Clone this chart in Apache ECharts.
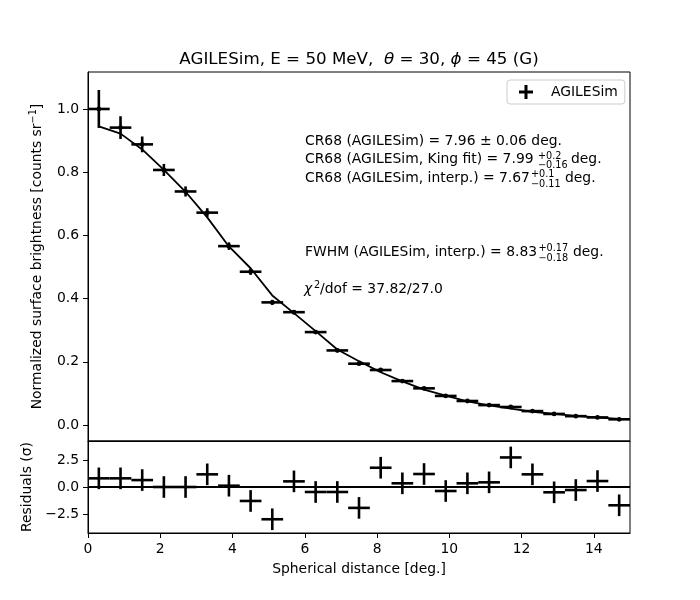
<!DOCTYPE html>
<html>
<head>
<meta charset="utf-8">
<script src="https://cdn.jsdelivr.net/npm/echarts@6/dist/echarts.min.js"></script>
<style>html,body{margin:0;padding:0;background:#fff}#c{width:700px;height:600px}</style>
</head>
<body>
<div id="c"></div>
<script>
// ---- data ----
const xCenters = [0.3,0.9,1.5,2.1,2.7,3.3,3.9,4.5,5.1,5.7,6.3,6.9,7.5,8.1,8.7,9.3,9.9,10.5,11.1,11.7,12.3,12.9,13.5,14.1,14.7];
const xHalfWidth = [0.3,0.3,0.3,0.3,0.3,0.3,0.3,0.3,0.3,0.3,0.3,0.3,0.3,0.3,0.3,0.3,0.3,0.3,0.3,0.3,0.3,0.3,0.3,0.3,0.3];
const brightness = [1.000,0.941,0.888,0.807,0.739,0.672,0.566,0.485,0.388,0.357,0.294,0.236,0.194,0.174,0.139,0.116,0.092,0.076,0.063,0.057,0.044,0.035,0.028,0.024,0.018];
const brightnessErr = [0.060,0.036,0.025,0.019,0.016,0.014,0.012,0.010,0.008,0.007,0.006,0.006,0.005,0.005,0.004,0.004,0.004,0.003,0.003,0.003,0.003,0.003,0.002,0.002,0.002];
const model = [0.945,0.922,0.872,0.807,0.738,0.657,0.565,0.496,0.410,0.354,0.297,0.239,0.202,0.167,0.138,0.112,0.093,0.075,0.062,0.052,0.042,0.035,0.029,0.024,0.019];
const residuals = [0.80,0.80,0.64,0.00,0.00,1.17,0.12,-1.29,-2.98,0.52,-0.46,-0.46,-1.93,1.78,0.34,1.20,-0.37,0.34,0.43,2.73,1.17,-0.49,-0.28,0.55,-1.69];
const residualErr = [1,1,1,1,1,1,1,1,1,1,1,1,1,1,1,1,1,1,1,1,1,1,1,1,1];
const xTicks = [0,2,4,6,8,10,12,14];
const mainYTicks = [0.0,0.2,0.4,0.6,0.8,1.0];
const residYTicks = [-2.5,0.0,2.5];

const FONT = 'DejaVu Sans';
const FS = 13.9;
const SFS = 9.7;

function crossRenderer(dotR) {
  return function (params, api) {
    const x = api.value(0), y = api.value(1), xe = api.value(2), ye = api.value(3);
    const l = api.coord([x - xe, y]), r = api.coord([x + xe, y]);
    const b = api.coord([x, y - ye]), t = api.coord([x, y + ye]);
    const c = api.coord([x, y]);
    const st = { stroke: '#000', lineWidth: 2.6 };
    const children = [
      { type: 'line', shape: { x1: l[0], y1: l[1], x2: r[0], y2: r[1] }, style: st },
      { type: 'line', shape: { x1: b[0], y1: b[1], x2: t[0], y2: t[1] }, style: st }
    ];
    if (dotR > 0) children.push({ type: 'circle', shape: { cx: c[0], cy: c[1], r: dotR }, style: { fill: '#000' } });
    return { type: 'group', children: children };
  };
}

const mainData = xCenters.map((x, i) => [x, brightness[i], xHalfWidth[i], brightnessErr[i]]);
const residData = xCenters.map((x, i) => [x, residuals[i], xHalfWidth[i], residualErr[i]]);
const modelData = xCenters.map((x, i) => [x, model[i]]);

const axisCommon = {
  axisLine: { show: true, onZero: false, lineStyle: { color: '#000', width: 1 } },
  axisTick: { show: true, length: 5, lineStyle: { color: '#000', width: 1 } },
  axisLabel: { color: '#000', fontFamily: FONT, fontSize: FS, margin: 8 },
  splitLine: { show: false }
};

function txt(x, y, text, size, extra) {
  return {
    type: 'text', x: x, y: y, silent: true,
    style: Object.assign({ text: text, fill: '#000', fontFamily: FONT, fontSize: size, verticalAlign: 'middle', align: 'left' }, extra || {})
  };
}

const option = {
  backgroundColor: '#fff',
  animation: false,
  grid: [
    { left: 88, top: 72, width: 542, height: 369, show: true, borderColor: '#000', borderWidth: 1, backgroundColor: 'transparent' },
    { left: 88, top: 441, width: 542, height: 92, show: true, borderColor: '#000', borderWidth: 1, backgroundColor: 'transparent' }
  ],
  xAxis: [
    Object.assign({}, axisCommon, {
      gridIndex: 0, type: 'value', min: 0, max: 15,
      axisTick: { show: false }, axisLabel: { show: false }
    }),
    Object.assign({}, axisCommon, {
      gridIndex: 1, type: 'value', min: 0, max: 15,
      axisTick: Object.assign({}, axisCommon.axisTick, { customValues: xTicks }),
      axisLabel: Object.assign({}, axisCommon.axisLabel, { customValues: xTicks, margin: 9, formatter: v => String(v) }),
      name: 'Spherical distance [deg.]', nameLocation: 'middle', nameGap: 29,
      nameTextStyle: { color: '#000', fontFamily: FONT, fontSize: FS }
    })
  ],
  yAxis: [
    Object.assign({}, axisCommon, {
      gridIndex: 0, type: 'value', min: -0.0506, max: 1.117,
      axisTick: Object.assign({}, axisCommon.axisTick, { customValues: mainYTicks }),
      axisLabel: Object.assign({}, axisCommon.axisLabel, { customValues: mainYTicks, margin: 9, formatter: v => v.toFixed(1) }),
      name: 'Normalized surface brightness [counts sr{sup|−1}]', nameLocation: 'middle', nameGap: 38,
      nameTextStyle: {
        color: '#000', fontFamily: FONT, fontSize: FS, lineHeight: 18,
        rich: { sup: { fontFamily: FONT, fontSize: SFS, color: '#000', verticalAlign: 'top', lineHeight: 10 } }
      }
    }),
    Object.assign({}, axisCommon, {
      gridIndex: 1, type: 'value', min: -4.25, max: 4.25,
      axisTick: Object.assign({}, axisCommon.axisTick, { customValues: residYTicks }),
      axisLabel: Object.assign({}, axisCommon.axisLabel, {
        customValues: residYTicks, margin: 9,
        formatter: v => (v < 0 ? '\u2212' : '') + Math.abs(v).toFixed(1)
      }),
      name: 'Residuals (\u03c3)', nameLocation: 'middle', nameGap: 44,
      nameTextStyle: { color: '#000', fontFamily: FONT, fontSize: FS }
    })
  ],
  legend: {
    data: [{ name: 'AGILESim', icon: 'path://M5.5,0H8.5V5.5H14V8.5H8.5V14H5.5V8.5H0V5.5H5.5Z' }],
    left: 507, top: 80,
    itemWidth: 14, itemHeight: 14, itemGap: 5,
    padding: [5, 7, 5, 12],
    borderColor: '#cccccc', borderWidth: 1, borderRadius: 3,
    backgroundColor: '#fff',
    itemStyle: { color: '#000', borderWidth: 0 },
    textStyle: { color: '#000', fontFamily: FONT, fontSize: FS, padding: [0, 0, 0, 13] }
  },
  series: [
    {
      name: 'Model', type: 'line', xAxisIndex: 0, yAxisIndex: 0,
      data: modelData, showSymbol: false, symbol: 'none',
      lineStyle: { color: '#000', width: 1.8 }, z: 2
    },
    {
      name: 'AGILESim', type: 'custom', xAxisIndex: 0, yAxisIndex: 0,
      data: mainData, encode: { x: 0, y: 1 },
      itemStyle: { color: '#000' },
      renderItem: crossRenderer(2.4), z: 3
    },
    {
      name: 'Residuals', type: 'custom', xAxisIndex: 1, yAxisIndex: 1,
      data: residData, encode: { x: 0, y: 1 },
      itemStyle: { color: '#000' },
      renderItem: crossRenderer(0), z: 3,
      markLine: {
        silent: true, symbol: 'none', label: { show: false },
        lineStyle: { color: '#000', width: 2, type: 'solid' },
        data: [{ yAxis: 0 }]
      }
    }
  ],
  graphic: [
    {
      type: 'text', x: 359, y: 60, silent: true,
      style: {
        text: 'AGILESim, E = 50 MeV,  {i|\u03b8} = 30, {i|\u03d5} = 45 (G)',
        fill: '#000', fontFamily: FONT, fontSize: 16.7, align: 'center', verticalAlign: 'middle',
        rich: { i: { fontFamily: FONT, fontSize: 16.7, fontStyle: 'italic', fill: '#000' } }
      }
    },
    txt(305, 141.5, 'CR68 (AGILESim) = 7.96 \u00b1 0.06 deg.', FS),
    txt(305, 159.5, 'CR68 (AGILESim, King fit) = 7.99', FS),
    txt(538, 156, '+0.2', SFS),
    txt(538, 165.5, '\u22120.16', SFS),
    txt(571, 159.5, 'deg.', FS),
    txt(305, 178, 'CR68 (AGILESim, interp.) = 7.67', FS),
    txt(531, 174.5, '+0.1', SFS),
    txt(531, 184, '\u22120.11', SFS),
    txt(565, 178, 'deg.', FS),
    txt(305, 252.3, 'FWHM (AGILESim, interp.) = 8.83', FS),
    txt(538.5, 248.8, '+0.17', SFS),
    txt(538.5, 258, '\u22120.18', SFS),
    txt(573, 252.3, 'deg.', FS),
    txt(304, 289.5, '\u03c7', FS, { fontStyle: 'italic' }),
    txt(314, 285, '2', SFS),
    txt(320, 289.5, '/dof = 37.82/27.0', FS)
  ]
};

const chart = echarts.init(document.getElementById('c'), null, { renderer: 'canvas', width: 700, height: 600 });
chart.setOption(option);
</script>
</body>
</html>
